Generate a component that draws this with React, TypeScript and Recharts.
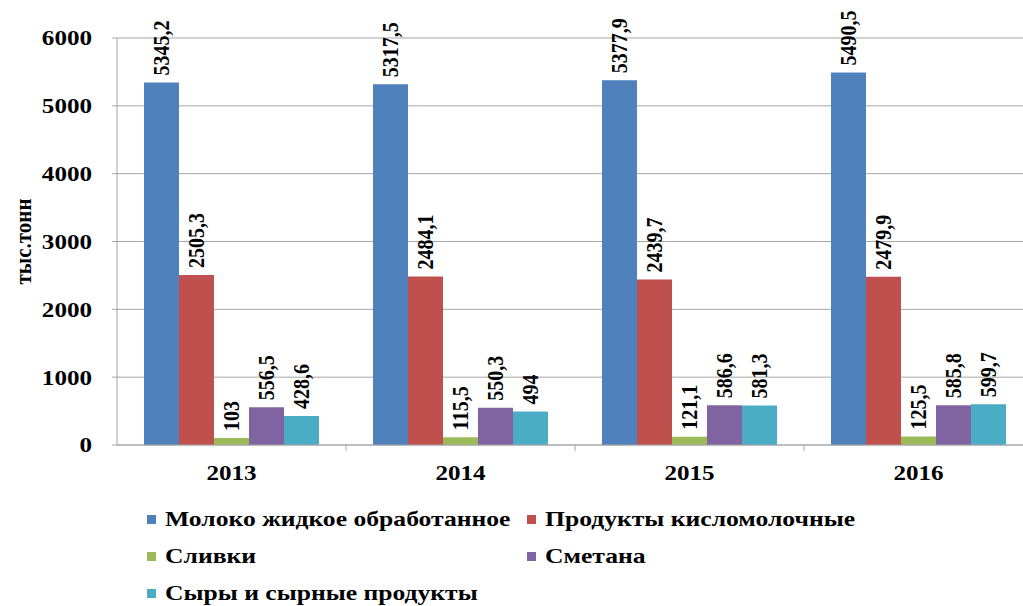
import React from 'react';
import {
  BarChart,
  Bar,
  XAxis,
  YAxis,
  CartesianGrid,
  LabelList,
} from 'recharts';

const years = ['2013', '2014', '2015', '2016'];
const milk = [5345.2, 5317.5, 5377.9, 5490.5];
const sourMilk = [2505.3, 2484.1, 2439.7, 2479.9];
const cream = [103, 115.5, 121.1, 125.5];
const sourCream = [556.5, 550.3, 586.6, 585.8];
const cheese = [428.6, 494, 581.3, 599.7];
const yTicks = [0, 1000, 2000, 3000, 4000, 5000, 6000];

const series = [
  { key: 'milk', name: 'Молоко жидкое обработанное', color: '#4F81BD', values: milk },
  { key: 'sourMilk', name: 'Продукты кисломолочные', color: '#C0504D', values: sourMilk },
  { key: 'cream', name: 'Сливки', color: '#9BBB59', values: cream },
  { key: 'sourCream', name: 'Сметана', color: '#8064A2', values: sourCream },
  { key: 'cheese', name: 'Сыры и сырные продукты', color: '#4BACC6', values: cheese },
];

const data = years.map((year, i) => {
  const row: Record<string, string | number> = { year };
  series.forEach((s) => {
    row[s.key] = s.values[i];
  });
  return row;
});

const FONT = 'Liberation Serif';
// the source picture is stretched sideways a little, so text gets widened too
const SX = 1.14;
const CHART_W = 1045;
const CHART_H = 606;
const MARGIN = { top: 38, right: 12, left: 0, bottom: 121 };
const Y_AXIS_W = 117;
const band = (CHART_W - MARGIN.left - MARGIN.right - Y_AXIS_W) / years.length;
const plotH = CHART_H - MARGIN.top - MARGIN.bottom - 40;

// labels like "5345,2", written upward just above the bar
const renderValue = (props: any) => {
  const { x, y, width, value } = props;
  const cx = x + width / 2;
  const ty = y - 7;
  return (
    <text
      transform={`translate(${cx}, ${ty}) scale(${SX}, 1) rotate(-90)`}
      textAnchor="start"
      dominantBaseline="central"
      fontFamily={FONT}
      fontWeight="bold"
      fontSize={20}
      fill="#000"
    >
      {String(value).replace('.', ',')}
    </text>
  );
};

// year label plus the small tick marks on category borders
const renderXTick = (props: any) => {
  const { x, y, payload } = props;
  return (
    <g>
      <line x1={x + band / 2} y1={y - 8} x2={x + band / 2} y2={y - 2} stroke="#A6A6A6" />
      <text
        transform={`translate(${x}, ${y + 27}) scale(${SX}, 1)`}
        textAnchor="middle"
        fontFamily={FONT}
        fontWeight="bold"
        fontSize={22}
        fill="#000"
      >
        {payload.value}
      </text>
    </g>
  );
};

const renderYTick = (props: any) => {
  const { x, y, payload } = props;
  return (
    <text
      transform={`translate(${x}, ${y}) scale(${SX}, 1)`}
      textAnchor="end"
      dominantBaseline="central"
      fontFamily={FONT}
      fontWeight="bold"
      fontSize={22}
      fill="#000"
    >
      {payload.value}
    </text>
  );
};

const renderYLabel = () => {
  const cy = MARGIN.top + plotH / 2;
  return (
    <text
      transform={`translate(23, ${cy}) scale(${SX}, 1) rotate(-90)`}
      textAnchor="middle"
      dominantBaseline="central"
      fontFamily={FONT}
      fontWeight="bold"
      fontSize={21}
      fill="#000"
    >
      тыс.тонн
    </text>
  );
};

const legendRows = [
  [series[0], series[1]],
  [series[2], series[3]],
  [series[4]],
];

const App: React.FC = () => {
  return (
    <div
      style={{
        position: 'fixed',
        left: 0,
        top: 0,
        width: 1023,
        height: 606,
        overflow: 'hidden',
        background: '#fff',
      }}
    >
      <BarChart
        width={CHART_W}
        height={CHART_H}
        data={data}
        margin={MARGIN}
        barCategoryGap={27}
        barGap={0}
      >
        <CartesianGrid vertical={false} stroke="#A6A6A6" />
        <XAxis
          dataKey="year"
          tickLine={false}
          axisLine={{ stroke: '#A6A6A6' }}
          tick={renderXTick}
          height={40}
          interval={0}
        />
        <YAxis
          width={Y_AXIS_W}
          domain={[0, 6000]}
          ticks={yTicks}
          interval={0}
          axisLine={{ stroke: '#A6A6A6' }}
          tickLine={{ stroke: '#A6A6A6' }}
          tickSize={5}
          tickMargin={20}
          tick={renderYTick}
          label={renderYLabel}
        />
        {series.map((s) => (
          <Bar key={s.key} dataKey={s.key} name={s.name} fill={s.color} isAnimationActive={false}>
            <LabelList dataKey={s.key} content={renderValue} />
          </Bar>
        ))}
      </BarChart>
      <div
        style={{
          position: 'absolute',
          left: 147,
          top: 501,
          fontFamily: FONT,
          fontWeight: 'bold',
          fontSize: 21,
          color: '#000',
        }}
      >
        {legendRows.map((row, i) => (
          <div key={i} style={{ display: 'flex', height: 37, alignItems: 'center' }}>
            {row.map((s) => (
              <div key={s.key} style={{ display: 'flex', alignItems: 'center', width: 380 }}>
                <span
                  style={{
                    display: 'inline-block',
                    width: 9,
                    height: 9,
                    background: s.color,
                    marginRight: 9,
                  }}
                />
                <span
                  style={{
                    display: 'inline-block',
                    whiteSpace: 'nowrap',
                    transform: `scaleX(1.22)`,
                    transformOrigin: 'left center',
                  }}
                >
                  {s.name}
                </span>
              </div>
            ))}
          </div>
        ))}
      </div>
    </div>
  );
};

export default App;
